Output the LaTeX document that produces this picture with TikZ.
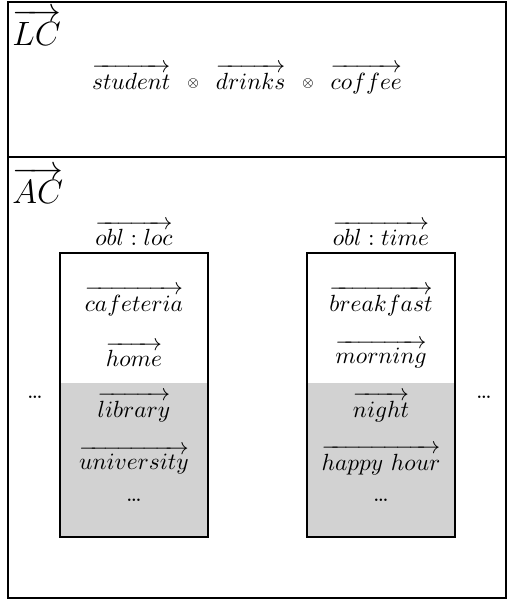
\documentclass[tikz,border=0pt]{standalone}
\usepackage{amsmath, amssymb}
\usepackage{tikz}
\usetikzlibrary{positioning}

\newcommand{\smallotimes}{\hspace{7pt}\vcenter{\hbox{$\scriptscriptstyle\otimes$}}\hspace{7pt}}

\begin{document}
\begin{tikzpicture}[x=0.4274pt,y=-0.4274pt]
\useasboundingbox (0,0) rectangle (507,603);
\draw[line width=.85pt] (8,2) rectangle (506,598);
\draw[line width=.85pt] (8,157) -- (506,157);
\node at(12,45)[anchor=base west,inner sep=0pt](lc){\Large$\overrightarrow{LC}$};
\node at(247,79)[inner sep=0pt](lcexpr){$\overrightarrow{student}\smallotimes\overrightarrow{drinks}\smallotimes\overrightarrow{coffee}$};
\node at(12,203)[anchor=base west,inner sep=0pt](ac){\Large$\overrightarrow{AC}$};
\foreach \x/\r/\a/\b/\c/\d in {
  134/loc/cafeteria/home/library/university,
  381/time/breakfast/morning/night/happy\ hour
}{
\fill[gray!35] (\x-74,383) rectangle (\x+74,537);
\draw[line width=1pt] (\x-74,253) rectangle (\x+74,537);
\node at(\x,233)[inner sep=0pt](\r){$\overrightarrow{obl:\r}$};
\foreach \t[count=\i] in {\a,\b,\c,\d}
  \node at(\x,248+53*\i)[inner sep=0pt](\r-\i){$\overrightarrow{\t}$};
\node at(\x,500)[inner sep=0pt](\r-dots){\dots};
}
\node at(35,397)[inner sep=0pt](leftdots){\dots};
\node at(484,397)[inner sep=0pt](rightdots){\dots};
\end{tikzpicture}
\end{document}
